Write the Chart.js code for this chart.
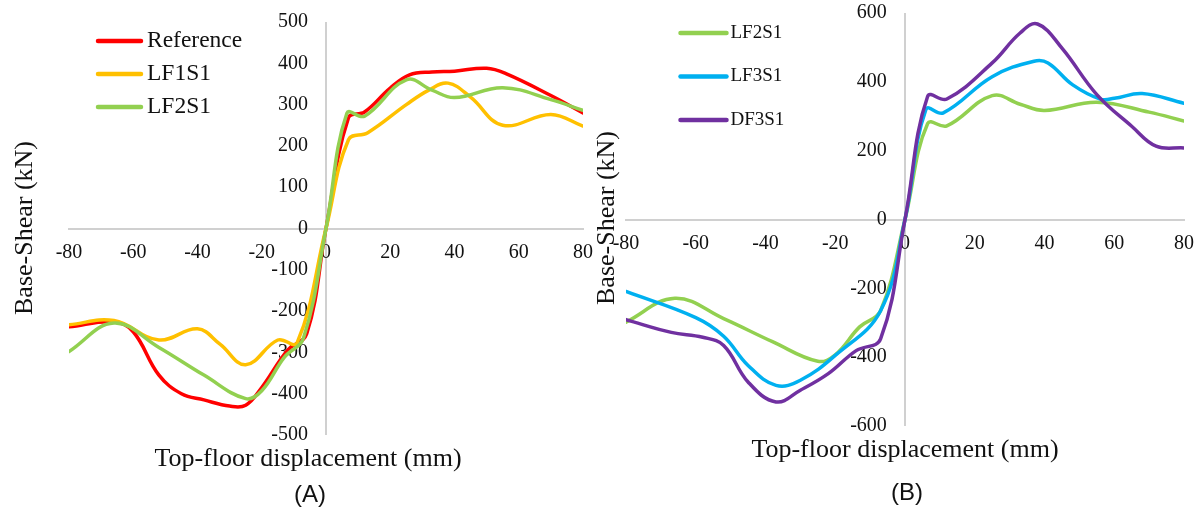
<!DOCTYPE html>
<html>
<head>
<meta charset="utf-8">
<script src="https://cdn.jsdelivr.net/npm/chart.js@4/dist/chart.umd.min.js"></script>
<style>
  html, body { margin: 0; padding: 0; background: #ffffff; }
  #wrap { position: relative; width: 1201px; height: 510px; overflow: hidden; background: #ffffff; }
  #chartA { position: absolute; left: 0; top: 0; }
  #chartB { position: absolute; left: 580px; top: 0; }
</style>
</head>
<body>
<div id="wrap">
  <canvas id="chartA" width="605" height="510"></canvas>
  <canvas id="chartB" width="626" height="510"></canvas>
</div>
<script>
// Axis tick values
const displacementTicks = [-80, -60, -40, -20, 0, 20, 40, 60, 80];
const shearTicksA = [-500, -400, -300, -200, -100, 0, 100, 200, 300, 400, 500];
const shearTicksB = [-600, -400, -200, 0, 200, 400, 600];

// Pushover curves: top-floor displacement (mm) against base shear (kN)
const referenceDisp  = [-80, -66, -60, -52, -45, -38, -30, -25, -20, -12, -6, 0, 7, 12, 20, 26, 33, 40, 50, 56, 70, 80];
const referenceShear = [-238, -226, -250, -355, -400, -415, -430, -428, -385, -295, -255, 0, 268, 282, 340, 372, 379, 381, 388, 375, 322, 280];

const lf1s1Disp  = [-80, -66, -52, -40, -33, -25, -15, -9, 0, 7, 13, 25, 32, 38, 45, 55, 70, 80];
const lf1s1Shear = [-233, -223, -270, -243, -280, -330, -270, -277, 0, 215, 232, 300, 335, 352, 318, 250, 276, 248];

const lf2s1Disp  = [-80, -66, -52, -38, -25, -20, -13, -7, 0, 6.5, 12, 25, 33, 40, 55, 70, 80];
const lf2s1Shear = [-298, -229, -288, -355, -412, -393, -312, -265, 0, 279, 272, 360, 335, 317, 341, 312, 286];

const lf3s1Disp  = [-80, -60, -52, -45, -37, -30, -20, -7, 0, 6, 11, 25, 37, 41, 48, 56, 60, 68, 80];
const lf3s1Shear = [-209, -285, -339, -424, -482, -467, -395, -265, 0, 320, 310, 415, 460, 455, 392, 350, 352, 366, 338];

const df3s1Disp  = [-80, -67, -58, -52, -45, -37, -30, -22, -14, -7, 0, 6.5, 12, 25, 33, 38, 45, 55, 65, 72, 80];
const df3s1Shear = [-291, -328, -342, -366, -472, -530, -496, -448, -381, -347, 0, 358, 350, 455, 542, 568, 498, 363, 271, 213, 208];

const INK = '#111111';
const AXIS_GREY = '#d0d0d0';
const SERIF = '"Liberation Serif", "Times New Roman", serif';
const SANS = '"Liberation Sans", Arial, sans-serif';

const toPoints = (xs, ys) => xs.map((x, i) => ({ x: x, y: ys[i] }));

// Later series are painted on top of earlier ones
function curve(label, xs, ys, color, index, count) {
  return {
    label: label,
    data: toPoints(xs, ys),
    borderColor: color,
    backgroundColor: color,
    borderWidth: 3.5,
    borderCapStyle: 'round',
    borderJoinStyle: 'round',
    showLine: true,
    pointRadius: 0,
    pointHoverRadius: 0,
    tension: 0.4,
    fill: false,
    order: count - index
  };
}

// Axis titles, panel tag and an in-plot legend
const captionPlugin = {
  id: 'captions',
  afterDraw(chart, _args, o) {
    const ctx = chart.ctx;
    ctx.save();
    ctx.fillStyle = INK;
    ctx.textAlign = 'center';
    ctx.font = o.titleSize + 'px ' + SERIF;

    ctx.save();
    ctx.translate(o.yTitle.x, o.yTitle.y);
    ctx.rotate(-Math.PI / 2);
    ctx.textBaseline = 'middle';
    ctx.fillText(o.yTitle.text, 0, 0);
    ctx.restore();

    ctx.textBaseline = 'alphabetic';
    ctx.fillText(o.xTitle.text, o.xTitle.x, o.xTitle.y);

    ctx.font = o.tag.size + 'px ' + SANS;
    ctx.textBaseline = 'middle';
    ctx.fillText(o.tag.text, o.tag.x, o.tag.y);

    const L = o.legend;
    ctx.font = L.size + 'px ' + SERIF;
    ctx.textAlign = 'left';
    ctx.textBaseline = 'middle';
    chart.data.datasets.forEach((ds, i) => {
      const y = L.y + i * L.step;
      ctx.strokeStyle = ds.borderColor;
      ctx.lineWidth = L.lineWidth;
      ctx.lineCap = 'round';
      ctx.beginPath();
      ctx.moveTo(L.x, y);
      ctx.lineTo(L.x + L.len, y);
      ctx.stroke();
      ctx.fillText(ds.label, L.x + L.len + L.gap, y);
    });
    ctx.restore();
  }
};

function panelOptions(cfg) {
  const tickFont = { family: SERIF, size: 20 };
  return {
    responsive: false,
    animation: false,
    events: [],
    layout: { padding: cfg.padding },
    plugins: {
      legend: { display: false },
      tooltip: { enabled: false },
      captions: cfg.captions
    },
    scales: {
      x: {
        type: 'linear',
        min: -80,
        max: 80,
        position: { y: 0 },
        afterBuildTicks: (s) => { s.ticks = displacementTicks.map(v => ({ value: v })); },
        grid: {
          display: true,
          drawTicks: false,
          drawOnChartArea: true,
          lineWidth: 2,
          color: (c) => (c.tick && c.tick.value === 0) ? AXIS_GREY : 'rgba(0,0,0,0)'
        },
        border: { display: true, color: AXIS_GREY, width: 2 },
        ticks: { autoSkip: false, maxRotation: 0, padding: 12, color: INK, font: tickFont }
      },
      y: {
        type: 'linear',
        min: cfg.yMin,
        max: cfg.yMax,
        position: { x: cfg.labelAt },
        afterBuildTicks: (s) => { s.ticks = cfg.yTicks.map(v => ({ value: v })); },
        grid: { display: false, drawTicks: false },
        border: { display: false },
        ticks: { padding: 0, color: INK, font: tickFont }
      }
    }
  };
}

new Chart(document.getElementById('chartA'), {
  type: 'scatter',
  data: {
    datasets: [
      curve('Reference', referenceDisp, referenceShear, '#FF0000', 0, 3),
      curve('LF1S1', lf1s1Disp, lf1s1Shear, '#FFC000', 1, 3),
      curve('LF2S1', lf2s1Disp, lf2s1Shear, '#92D050', 2, 3)
    ]
  },
  options: panelOptions({
    padding: { left: 69, right: 22, top: 22, bottom: 75 },
    yMin: -500, yMax: 500, yTicks: shearTicksA, labelAt: -5.6,
    captions: {
      titleSize: 26,
      yTitle: { text: 'Base-Shear (kN)', x: 25, y: 228 },
      xTitle: { text: 'Top-floor displacement (mm)', x: 308, y: 466 },
      tag: { text: '(A)', size: 24, x: 310, y: 495 },
      legend: { x: 98, y: 41, step: 33, len: 43, gap: 6, size: 23.5, lineWidth: 4.5 }
    }
  }),
  plugins: [captionPlugin]
});

new Chart(document.getElementById('chartB'), {
  type: 'scatter',
  data: {
    datasets: [
      curve('LF2S1', lf2s1Disp, lf2s1Shear, '#92D050', 0, 3),
      curve('LF3S1', lf3s1Disp, lf3s1Shear, '#00B0F0', 1, 3),
      curve('DF3S1', df3s1Disp, df3s1Shear, '#7030A0', 2, 3)
    ]
  },
  options: panelOptions({
    padding: { left: 46, right: 22, top: 13, bottom: 84 },
    yMin: -600, yMax: 600, yTicks: shearTicksB, labelAt: -5.2,
    captions: {
      titleSize: 26,
      yTitle: { text: 'Base-Shear (kN)', x: 27.5, y: 218 },
      xTitle: { text: 'Top-floor displacement (mm)', x: 325, y: 457 },
      tag: { text: '(B)', size: 24, x: 327, y: 493 },
      legend: { x: 100.5, y: 33, step: 43.5, len: 46, gap: 4, size: 19, lineWidth: 4.5 }
    }
  }),
  plugins: [captionPlugin]
});
</script>
</body>
</html>
